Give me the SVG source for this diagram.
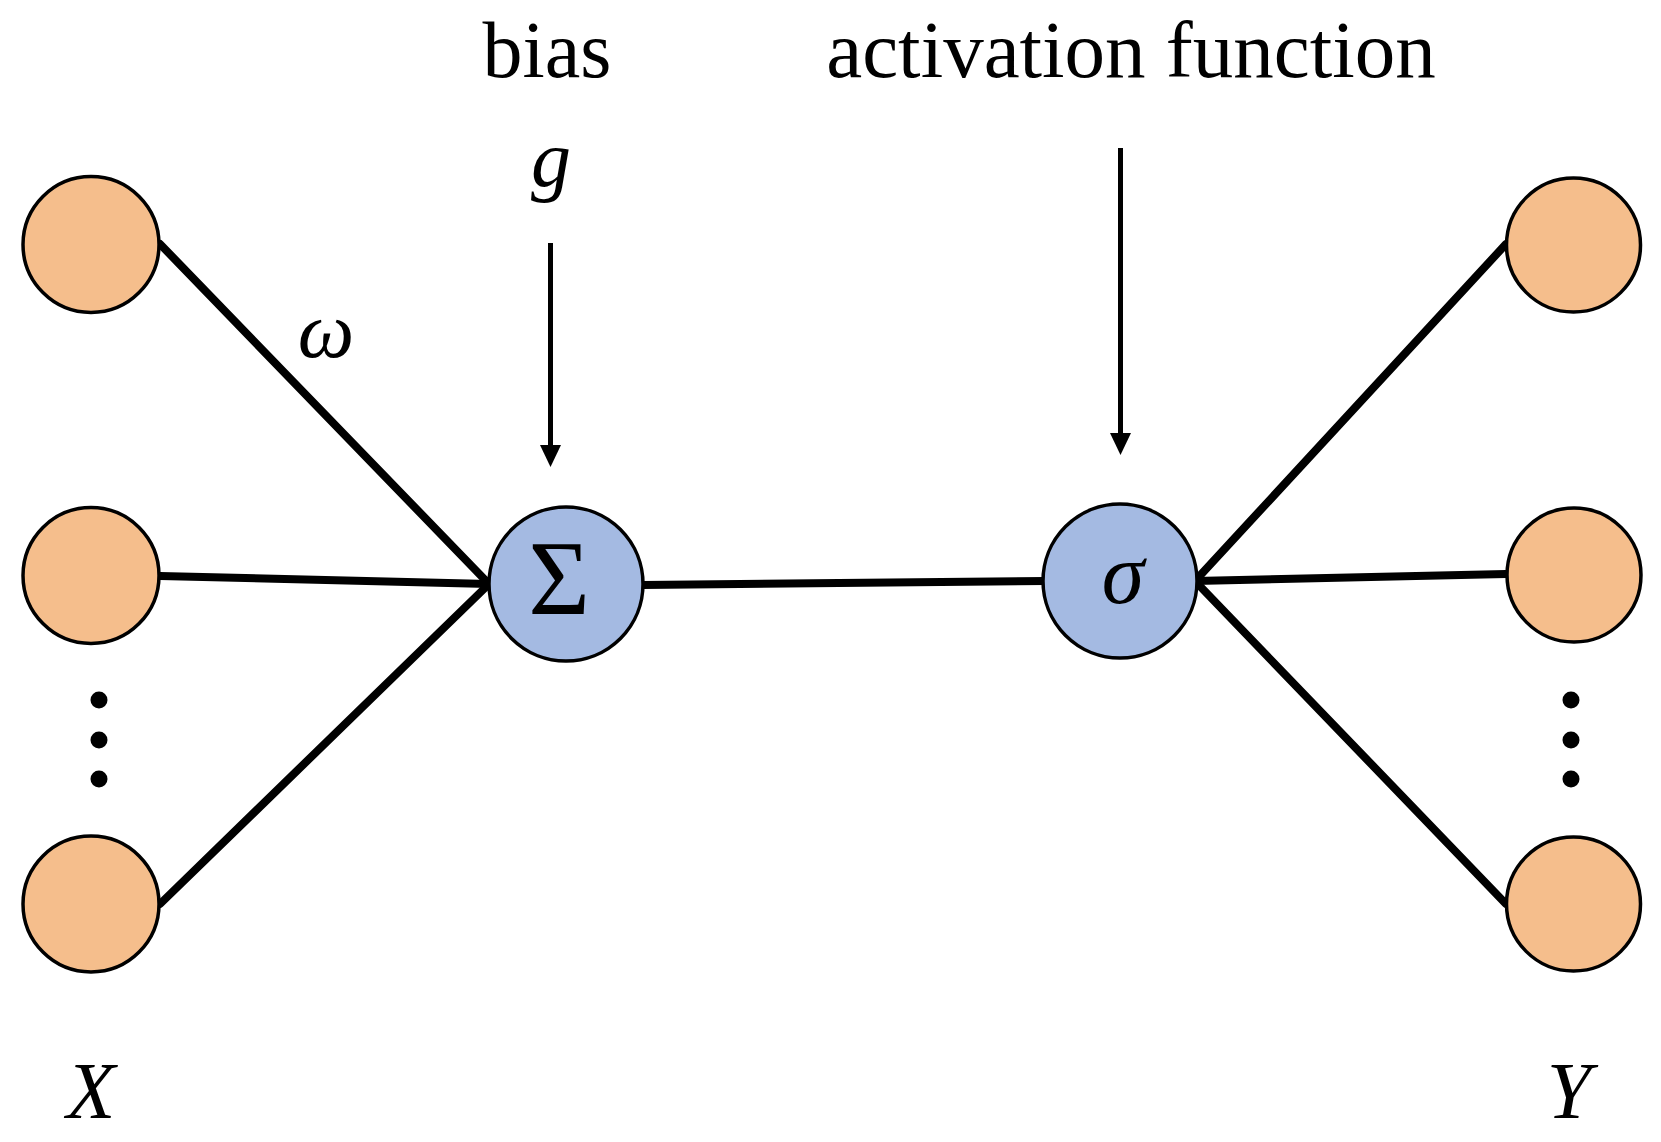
<svg xmlns="http://www.w3.org/2000/svg" width="1661" height="1142" viewBox="0 0 1661 1142">
<style>
.io{fill:#F5BE8C;stroke:#000;stroke-width:3.5}
.op{fill:#A4BAE2;stroke:#000;stroke-width:3.5}
.cn{stroke:#000;stroke-width:8;fill:none;stroke-linecap:round}
.ar{stroke:#000;stroke-width:5;fill:none}
.t{fill:#000}
.i{font-style:italic}
.dot{fill:#000}
</style>
<rect width="1661" height="1142" fill="#fff"/>
<g id="connectors">
<line class="cn" x1="160" y1="244" x2="489" y2="584"/>
<line class="cn" x1="160" y1="576" x2="489" y2="584"/>
<line class="cn" x1="160" y1="904" x2="489" y2="584"/>
<line class="cn" x1="643" y1="585" x2="1045" y2="581"/>
<line class="cn" x1="1195" y1="581" x2="1506" y2="244"/>
<line class="cn" x1="1195" y1="581" x2="1506" y2="574"/>
<line class="cn" x1="1195" y1="581" x2="1506" y2="904"/>
<line class="ar" x1="550.5" y1="243" x2="550.5" y2="450"/>
<polygon points="540,445 561,445 550.5,467" fill="#000"/>
<line class="ar" x1="1120.5" y1="148" x2="1120.5" y2="438"/>
<polygon points="1110,433 1131,433 1120.5,455" fill="#000"/>
</g>
<g id="x1"><circle class="io" cx="91" cy="244.5" r="68"/></g>
<g id="x2"><circle class="io" cx="91" cy="575.5" r="68"/></g>
<g id="x3"><circle class="io" cx="91" cy="904" r="68"/></g>
<g id="x-dots"><circle class="dot" cx="99" cy="700" r="8.5"/><circle class="dot" cx="99" cy="740" r="8.5"/><circle class="dot" cx="99" cy="779" r="8.5"/></g>
<g id="y1"><circle class="io" cx="1573.5" cy="245" r="67"/></g>
<g id="y2"><circle class="io" cx="1574" cy="575" r="67"/></g>
<g id="y3"><circle class="io" cx="1573.5" cy="904" r="67"/></g>
<g id="y-dots"><circle class="dot" cx="1571" cy="700" r="8.5"/><circle class="dot" cx="1571" cy="740" r="8.5"/><circle class="dot" cx="1571" cy="779" r="8.5"/></g>
<g font-family="'Liberation Serif', Tinos, 'Times New Roman', serif">
<g id="sum"><circle class="op" cx="566" cy="584" r="77"/><text class="t" x="559" y="614" font-size="106" text-anchor="middle">Σ</text></g>
<g id="sigma"><circle class="op" cx="1120" cy="581" r="77"/><text class="t i" x="1123" y="603" font-size="86" text-anchor="middle">σ</text></g>
<g id="labels">
<text class="t" x="547" y="77" font-size="80" text-anchor="middle">bias</text>
<text class="t" x="1131" y="77" font-size="81" text-anchor="middle">activation function</text>
<text class="t i" x="551" y="186" font-size="80" text-anchor="middle">g</text>
<text class="t i" x="326" y="357" font-size="80" text-anchor="middle">ω</text>
<text class="t i" x="91" y="1118" font-size="80" text-anchor="middle">X</text>
<text class="t i" x="1569" y="1118" font-size="80" text-anchor="middle">Y</text>
</g>
</g>
</svg>
